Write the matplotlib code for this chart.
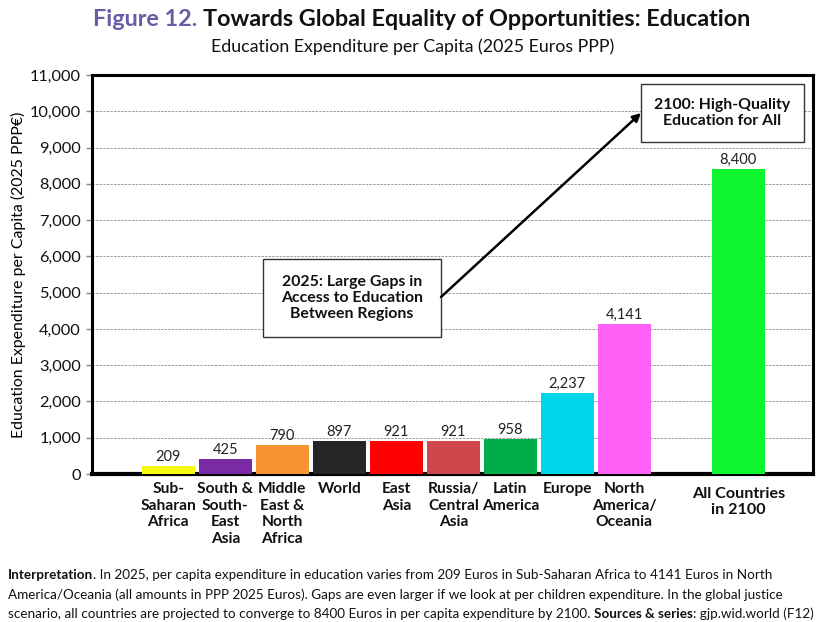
import matplotlib
matplotlib.use("Agg")
import matplotlib.pyplot as plt
from matplotlib.ticker import FuncFormatter
from matplotlib.patches import Rectangle

plt.rcParams['font.family'] = ['Lato', 'DejaVu Sans']

categories = ["Sub-\nSaharan\nAfrica", "South &\nSouth-\nEast\nAsia", "Middle\nEast &\nNorth\nAfrica",
              "World", "East\nAsia", "Russia/\nCentral\nAsia", "Latin\nAmerica", "Europe",
              "North\nAmerica/\nOceania", "All Countries\nin 2100"]
positions = [0, 1, 2, 3, 4, 5, 6, 7, 8, 10]
values = [209, 425, 790, 897, 921, 921, 958, 2237, 4141, 8400]
colors = ["#f7f70f", "#7a2aa5", "#f79433", "#262626", "#fe0000", "#cf474a", "#00ad48",
          "#00d6ea", "#ff60f5", "#0df52e"]
yticks = list(range(0, 11001, 1000))

W, H = 831, 622
fig = plt.figure(figsize=(W/100, H/100), dpi=100)
ax = fig.add_axes([92/W, 1-474/H, (813-92)/W, (474-75)/H])

ax.bar(positions, values, width=0.93, color=colors, zorder=3)
for p, v in zip(positions, values):
    ax.annotate(f"{v:,}", (p, v), xytext=(0, 1.5), textcoords="offset points",
                ha="center", va="bottom", fontsize=10.5, color="#222222", zorder=4)

ax.set_xlim(-1.34, 11.31)
ax.set_ylim(0, 11000)
ax.set_yticks(yticks)
ax.yaxis.set_major_formatter(FuncFormatter(lambda v, p: f"{int(v):,}"))
ax.tick_params(axis='y', labelsize=11.8, length=4, width=1, color="#888888", pad=4,
               labelcolor="#111111")
ax.set_xticks([])
for y in yticks[1:-1]:
    ax.axhline(y, color="#9a9a9a", lw=0.7, ls=(0, (2.5, 1.2)), zorder=1)
for s in ['top', 'right', 'left']:
    ax.spines[s].set_linewidth(2.2)
ax.spines['bottom'].set_linewidth(3)

for p, c in zip(positions, categories):
    big = c.startswith("All")
    ax.annotate(c, (p, 0), xytext=(0, -6 if not big else -9), textcoords="offset points",
                ha="center", va="top", fontsize=11.6 if big else 11.2, fontweight="bold",
                linespacing=1.22, color="#111111", annotation_clip=False)

ax.set_ylabel("Education Expenditure per Capita (2025 PPP€)", fontsize=11.4, labelpad=3)

# annotation boxes (figure pixel layout)
def box(x0, y0, x1, y1, text, ls):
    fig.patches.append(Rectangle((x0/W, 1-y1/H), (x1-x0)/W, (y1-y0)/H, transform=fig.transFigure,
                                 fc="white", ec="#333333", lw=1, zorder=5))
    fig.text((x0+x1)/2/W, 1-(y0+y1)/2/H, text, ha="center", va="center", fontsize=11.4,
             fontweight="bold", linespacing=ls, zorder=6, color="#111111")

box(263, 259, 441, 337, "2025: Large Gaps in\nAccess to Education\nBetween Regions", 1.2)
box(641, 84, 804, 142, "2100: High-Quality\nEducation for All", 1.1)
fig.patches.append(matplotlib.patches.FancyArrowPatch((441/W, 1-297/H), (641/W, 1-113/H),
                   transform=fig.transFigure, arrowstyle="-|>", color="black", lw=1.8,
                   mutation_scale=12, shrinkA=0, shrinkB=0, zorder=7))

# title
fig.canvas.draw()
r = fig.canvas.get_renderer()
t1 = fig.text(0, 1-20/H, "Figure 12. ", fontsize=16.8, fontweight="bold", color="#6b5ba5", va="center")
t2 = fig.text(0, 1-20/H, "Towards Global Equality of Opportunities: Education", fontsize=16.8,
              fontweight="bold", color="#111111", va="center")
w1 = t1.get_window_extent(r).width
w2 = t2.get_window_extent(r).width
x0 = 422 - (w1 + w2)/2
t1.set_x(x0/W)
t2.set_x((x0 + w1)/W)
fig.text(413/W, 1-47/H, "Education Expenditure per Capita (2025 Euros PPP)", fontsize=12.8,
         ha="center", va="center", color="#111111")

# bottom text with mixed weights
def seg_line(y, parts):
    x = 8
    for txt, wt in parts:
        t = fig.text(x/W, 1-y/H, txt, fontsize=9.75, fontweight=wt, va="center", color="#111111")
        x += t.get_window_extent(r).width

seg_line(575, [("Interpretation", "bold"), (". In 2025, per capita expenditure in education varies from 209 Euros in Sub-Saharan Africa to 4141 Euros in North", "normal")])
seg_line(595, [("America/Oceania (all amounts in PPP 2025 Euros). Gaps are even larger if we look at per children expenditure. In the global justice", "normal")])
seg_line(614, [("scenario, all countries are projected to converge to 8400 Euros in per capita expenditure by 2100. ", "normal"),
               ("Sources & series", "bold"), (": gjp.wid.world (F12)", "normal")])

fig.savefig("out.png", dpi=100)
